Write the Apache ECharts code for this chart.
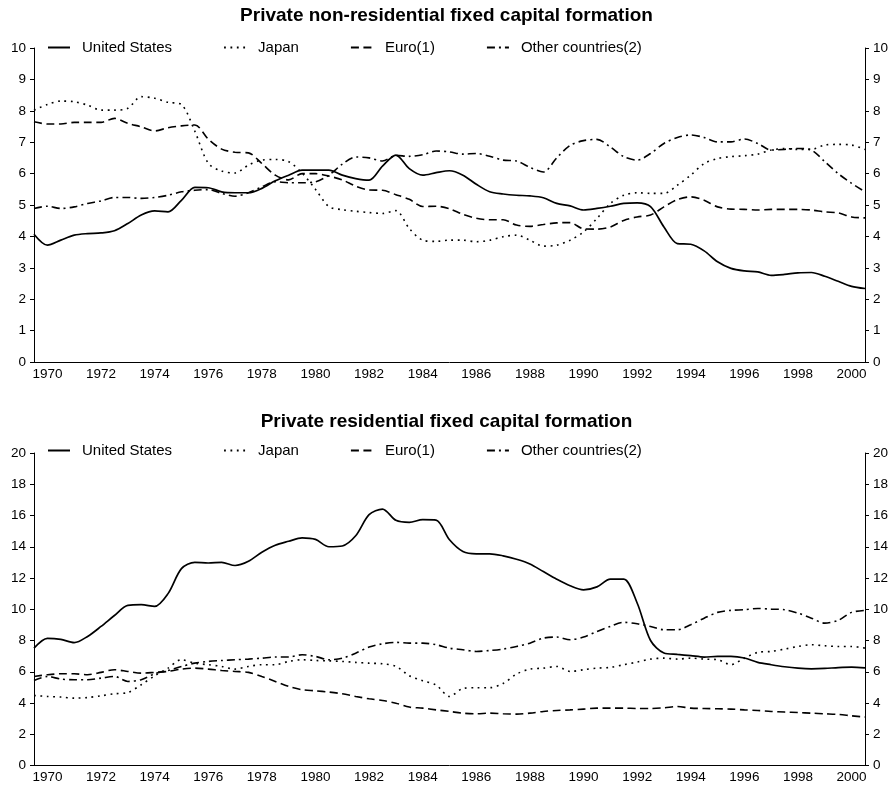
<!DOCTYPE html>
<html>
<head>
<meta charset="utf-8">
<script src="https://cdn.jsdelivr.net/npm/echarts@6/dist/echarts.min.js"></script>
<style>
  html, body { margin: 0; padding: 0; background: #fff; }
  #chart { width: 893px; height: 789px; }
</style>
</head>
<body>
<div id="chart"></div>
<script>
// half-yearly observations, 1970H1 .. 2001H1 (end of 2000)
var periods = [];
for (var y = 1970; y <= 2000; y++) { periods.push(y + 'H1', y + 'H2'); }
periods.push('2001H1');

// year categories for ticks / labels
var years = [];
for (var k = 1970; k <= 2000; k++) { years.push(String(k)); }

var seriesNames = ['United States', 'Japan', 'Euro(1)', 'Other countries(2)'];

// Private non-residential fixed capital formation
var usNonRes = [4.07, 3.72, 3.88, 4.04, 4.09, 4.11, 4.18, 4.41, 4.68, 4.81, 4.78, 5.15, 5.56, 5.55, 5.42, 5.39,
  5.39, 5.53, 5.77, 5.95, 6.11, 6.11, 6.11, 5.95, 5.84, 5.79, 6.24, 6.59, 6.16, 5.95, 6.03, 6.09,
  5.95, 5.66, 5.42, 5.35, 5.31, 5.29, 5.23, 5.05, 4.97, 4.84, 4.89, 4.96, 5.05, 5.07, 4.95, 4.30,
  3.77, 3.75, 3.54, 3.19, 2.98, 2.90, 2.87, 2.76, 2.79, 2.84, 2.85, 2.73, 2.57, 2.41, 2.34];
var jpNonRes = [8.02, 8.20, 8.31, 8.29, 8.18, 8.02, 8.02, 8.08, 8.45, 8.40, 8.27, 8.20, 7.35, 6.33, 6.08, 6.02,
  6.27, 6.43, 6.45, 6.38, 6.02, 5.50, 4.95, 4.85, 4.80, 4.76, 4.73, 4.82, 4.25, 3.88, 3.84, 3.88,
  3.88, 3.83, 3.88, 3.99, 4.04, 3.88, 3.69, 3.72, 3.88, 4.14, 4.57, 5.05, 5.31, 5.39, 5.37, 5.37,
  5.63, 5.95, 6.32, 6.48, 6.54, 6.57, 6.62, 6.75, 6.80, 6.77, 6.77, 6.91, 6.93, 6.91, 6.77];
var euNonRes = [7.65, 7.58, 7.58, 7.63, 7.63, 7.63, 7.76, 7.60, 7.49, 7.36, 7.46, 7.52, 7.55, 7.10, 6.78, 6.68,
  6.66, 6.32, 5.95, 5.80, 6.00, 6.00, 5.92, 5.80, 5.60, 5.48, 5.47, 5.33, 5.18, 4.95, 4.96, 4.88,
  4.70, 4.58, 4.53, 4.53, 4.36, 4.32, 4.38, 4.43, 4.44, 4.24, 4.23, 4.30, 4.51, 4.62, 4.68, 4.94,
  5.17, 5.26, 5.15, 4.94, 4.87, 4.86, 4.84, 4.86, 4.86, 4.86, 4.84, 4.78, 4.75, 4.62, 4.59];
var otNonRes = [4.89, 4.96, 4.89, 4.94, 5.05, 5.13, 5.24, 5.24, 5.21, 5.24, 5.31, 5.42, 5.47, 5.49, 5.37, 5.28,
  5.39, 5.58, 5.74, 5.71, 5.71, 5.74, 5.95, 6.30, 6.53, 6.50, 6.40, 6.58, 6.55, 6.60, 6.72, 6.69,
  6.62, 6.64, 6.55, 6.43, 6.40, 6.20, 6.05, 6.50, 6.90, 7.05, 7.09, 6.85, 6.54, 6.43, 6.64, 6.96,
  7.15, 7.23, 7.15, 7.01, 7.01, 7.10, 6.96, 6.75, 6.77, 6.80, 6.75, 6.38, 6.00, 5.69, 5.42];

// Private residential fixed capital formation
var usRes = [7.51, 8.14, 8.07, 7.86, 8.26, 8.90, 9.60, 10.25, 10.29, 10.18, 11.00, 12.60, 13.00, 12.96, 13.00, 12.80,
  13.07, 13.65, 14.10, 14.35, 14.57, 14.47, 14.00, 14.05, 14.70, 16.05, 16.41, 15.69, 15.56, 15.73, 15.70, 14.45,
  13.70, 13.55, 13.55, 13.42, 13.20, 12.90, 12.41, 11.92, 11.50, 11.24, 11.43, 11.93, 11.93, 10.40, 8.00, 7.20,
  7.11, 7.03, 6.94, 6.98, 6.98, 6.88, 6.60, 6.45, 6.32, 6.23, 6.19, 6.21, 6.27, 6.30, 6.25];
var jpRes = [4.48, 4.42, 4.38, 4.31, 4.35, 4.46, 4.59, 4.67, 5.17, 5.74, 6.23, 6.77, 6.55, 6.45, 6.34, 6.17,
  6.34, 6.45, 6.45, 6.66, 6.77, 6.72, 6.70, 6.66, 6.60, 6.55, 6.51, 6.35, 5.75, 5.42, 5.15, 4.42,
  4.93, 4.98, 4.98, 5.25, 5.85, 6.17, 6.23, 6.34, 6.02, 6.13, 6.23, 6.28, 6.45, 6.62, 6.81, 6.87,
  6.81, 6.87, 6.81, 6.77, 6.45, 6.87, 7.24, 7.30, 7.45, 7.62, 7.73, 7.66, 7.62, 7.62, 7.51];
var euRes = [5.70, 5.81, 5.87, 5.87, 5.81, 5.96, 6.13, 6.02, 5.91, 5.96, 6.02, 6.17, 6.23, 6.17, 6.08, 6.02,
  5.96, 5.70, 5.38, 5.06, 4.85, 4.78, 4.70, 4.59, 4.42, 4.27, 4.16, 3.99, 3.74, 3.67, 3.56, 3.46,
  3.35, 3.31, 3.35, 3.31, 3.29, 3.35, 3.46, 3.52, 3.56, 3.61, 3.67, 3.67, 3.67, 3.65, 3.65, 3.69,
  3.78, 3.67, 3.65, 3.63, 3.61, 3.56, 3.52, 3.46, 3.42, 3.39, 3.35, 3.31, 3.27, 3.18, 3.10];
var otRes = [5.44, 5.70, 5.53, 5.49, 5.49, 5.59, 5.70, 5.38, 5.49, 5.87, 6.08, 6.34, 6.55, 6.66, 6.72, 6.77,
  6.81, 6.87, 6.94, 6.94, 7.09, 6.98, 6.77, 6.87, 7.19, 7.58, 7.79, 7.88, 7.83, 7.83, 7.73, 7.51,
  7.41, 7.30, 7.36, 7.45, 7.62, 7.83, 8.15, 8.22, 8.05, 8.22, 8.58, 8.90, 9.16, 9.07, 8.90, 8.69,
  8.69, 9.01, 9.43, 9.80, 9.93, 9.97, 10.05, 10.01, 9.97, 9.75, 9.43, 9.11, 9.29, 9.80, 9.93];

var FONT = '"Liberation Sans", Arial, Helvetica, sans-serif';
var lineTypes = ['solid', [1.8, 4.6], [8, 4.5], [8, 4, 2, 4]];

var chart = echarts.init(document.getElementById('chart'));

function xAxes(gridIndex) {
  return [
    { gridIndex: gridIndex, type: 'category', data: periods, boundaryGap: false, show: false },
    {
      gridIndex: gridIndex, type: 'category', data: years, position: 'bottom', boundaryGap: true,
      axisLine: { lineStyle: { color: '#000', width: 1 } },
      axisTick: { interval: 0, length: 4, lineStyle: { color: '#000' } },
      axisLabel: { interval: 1, margin: 5, color: '#000', fontSize: 13.5, fontFamily: FONT },
      splitLine: { show: false }
    }
  ];
}

function yAxes(gridIndex, max, step) {
  var base = {
    gridIndex: gridIndex, type: 'value', min: 0, max: max, interval: step,
    axisLine: { show: true, lineStyle: { color: '#000', width: 1 } },
    axisTick: { show: true, length: 4, lineStyle: { color: '#000' } },
    axisLabel: { margin: 8, color: '#000', fontSize: 13.5, fontFamily: FONT },
    splitLine: { show: false }
  };
  return [
    Object.assign({ position: 'left' }, base),
    Object.assign({ position: 'right' }, base)
  ];
}

function lines(dataSets, xIdx, yIdx) {
  return dataSets.map(function (d, i) {
    return {
      name: seriesNames[i], type: 'line', data: d,
      xAxisIndex: xIdx, yAxisIndex: yIdx,
      symbol: 'none', smooth: 0.3,
      lineStyle: { color: '#000', width: i === 0 ? 1.7 : 1.6, type: lineTypes[i] },
      itemStyle: { color: '#000' }
    };
  });
}

function legendAt(top) {
  return {
    data: seriesNames, left: 47, top: top, orient: 'horizontal',
    itemWidth: 22, itemHeight: 14, itemGap: 51, padding: 0,
    itemStyle: { opacity: 0 },
    textStyle: { color: '#000', fontSize: 15, fontFamily: FONT, padding: [0, 0, 0, 7] },
    selectedMode: false
  };
}

var option = {
  animation: false,
  backgroundColor: '#fff',
  textStyle: { fontFamily: FONT },
  title: [
    { text: 'Private non-residential fixed capital formation', left: 'center', top: 1,
      textStyle: { fontSize: 19, fontWeight: 'bold', color: '#000', fontFamily: FONT } },
    { text: 'Private residential fixed capital formation', left: 'center', top: 407,
      textStyle: { fontSize: 19, fontWeight: 'bold', color: '#000', fontFamily: FONT } }
  ],
  legend: [legendAt(40), legendAt(443)],
  grid: [
    { left: 34, right: 28, top: 48, height: 314 },
    { left: 34, right: 28, top: 453, height: 312.5 }
  ],
  xAxis: xAxes(0).concat(xAxes(1)),
  yAxis: yAxes(0, 10, 1).concat(yAxes(1, 20, 2)),
  series: lines([usNonRes, jpNonRes, euNonRes, otNonRes], 0, 0)
    .concat(lines([usRes, jpRes, euRes, otRes], 2, 2))
};

chart.setOption(option);
</script>
</body>
</html>
